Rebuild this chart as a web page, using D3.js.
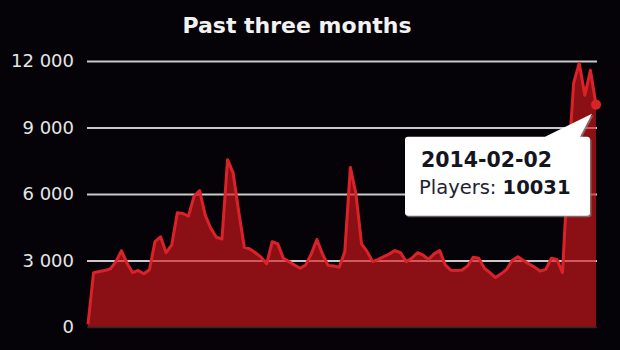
<!DOCTYPE html>
<html>
<head>
<meta charset="utf-8">
<script src="https://cdn.jsdelivr.net/npm/d3@7"></script>
<style>
  html, body { margin: 0; padding: 0; background: #050308; }
  text { font-family: "DejaVu Sans", Verdana, sans-serif; }
</style>
</head>
<body>
<div id="main"></div>
<script>
// daily player counts, 2013-11-03 .. 2014-02-02
var startDate = "2013-11-03";
var players = [
  120, 2450, 2500, 2550, 2620, 2950, 3440, 2870, 2450, 2550,
  2400, 2580, 3850, 4070, 3350, 3700, 5150, 5120, 5000, 5900,
  6150, 5050, 4450, 4050, 3970, 7550, 6950, 5200, 3600, 3520,
  3350, 3150, 2850, 3850, 3750, 3100, 2950, 2800, 2650, 2800,
  3300, 3950, 3300, 2780, 2750, 2700, 3400, 7200, 6000, 3750,
  3400, 2950, 3050, 3180, 3300, 3450, 3350, 2950, 3100, 3350,
  3250, 3050, 3300, 3450, 2800, 2560, 2550, 2570, 2750, 3150,
  3100, 2650, 2450, 2230, 2400, 2600, 3000, 3170, 3000, 2840,
  2700, 2520, 2600, 3100, 3050, 2450, 7200, 11000, 11900, 10450,
  11580, 10031
];
var yTicks = [0, 3000, 6000, 9000, 12000];
var title = "Past three months";
var seriesName = "Players";

var width = 620;
var height = 350;
var plotLeft = 88, plotRight = 596, plotTop = 61, plotBottom = 327;

var parseDate = d3.timeParse("%Y-%m-%d");
var fmtDate = d3.timeFormat("%Y-%m-%d");
var fmtTick = d3.formatLocale({decimal: ".", thousands: " ", grouping: [3], currency: ["", ""]}).format(",");

var data = players.map(function(v, i) {
  return { date: d3.timeDay.offset(parseDate(startDate), i), value: v };
});

var x = d3.scaleTime()
  .domain(d3.extent(data, function(d) { return d.date; }))
  .range([plotLeft, plotRight]);

var y = d3.scaleLinear()
  .domain([0, 12000])
  .range([plotBottom, plotTop]);

var svg = d3.select("#main").append("svg")
  .attr("width", width)
  .attr("height", height);

svg.append("rect")
  .attr("width", width)
  .attr("height", height)
  .attr("fill", "#050308");

svg.append("text")
  .attr("x", 297)
  .attr("y", 33)
  .attr("text-anchor", "middle")
  .attr("fill", "#f2f2f2")
  .style("font-size", "22px")
  .style("font-weight", "bold")
  .text(title);

// y axis with gridlines
var yAxis = svg.append("g")
  .attr("transform", "translate(" + (plotLeft - 1) + ",0)")
  .call(d3.axisLeft(y)
    .tickValues(yTicks)
    .tickSizeInner(-(plotRight - plotLeft + 2))
    .tickSizeOuter(0)
    .tickPadding(13)
    .tickFormat(fmtTick));

yAxis.select(".domain").remove();
yAxis.selectAll("line")
  .attr("stroke", "#c9c9c9")
  .attr("stroke-width", 2)
  .attr("opacity", function(d) { return d === 0 ? 0 : 1; });
yAxis.selectAll("text")
  .attr("fill", "#e6e6e6")
  .style("font-size", "18px")
  .style("font-family", "DejaVu Sans, Verdana, sans-serif");

var area = d3.area()
  .x(function(d) { return x(d.date); })
  .y0(y(0))
  .y1(function(d) { return y(d.value); });

var line = d3.line()
  .x(function(d) { return x(d.date); })
  .y(function(d) { return y(d.value); });

svg.append("path")
  .datum(data)
  .attr("d", area)
  .attr("fill", "#d8181f")
  .attr("fill-opacity", 0.64);

svg.append("line")
  .attr("x1", plotLeft - 1)
  .attr("x2", plotRight + 1)
  .attr("y1", plotBottom + 0.5)
  .attr("y2", plotBottom + 0.5)
  .attr("stroke", "#2a2a2a")
  .attr("stroke-width", 1.5);

svg.append("path")
  .datum(data)
  .attr("d", line)
  .attr("fill", "none")
  .attr("stroke", "#dc2229")
  .attr("stroke-width", 3)
  .attr("stroke-linejoin", "round");

// hovered point + tooltip
var hp = data[data.length - 1];
var px = x(hp.date), py = y(hp.value);

svg.append("circle")
  .attr("cx", px)
  .attr("cy", py)
  .attr("r", 5)
  .attr("fill", "#dc2229");

var bx0 = px - 191, bx1 = px - 6, by0 = py + 32, by1 = py + 111, r = 3;
var tipPath = "M" + (bx0 + r) + "," + by0 +
  " L" + (px - 51) + "," + by0 +
  " L" + (px - 4) + "," + (py + 9) +
  " L" + (px - 16) + "," + by0 +
  " L" + (bx1 - r) + "," + by0 +
  " Q" + bx1 + "," + by0 + " " + bx1 + "," + (by0 + r) +
  " L" + bx1 + "," + (by1 - r) +
  " Q" + bx1 + "," + by1 + " " + (bx1 - r) + "," + by1 +
  " L" + (bx0 + r) + "," + by1 +
  " Q" + bx0 + "," + by1 + " " + bx0 + "," + (by1 - r) +
  " L" + bx0 + "," + (by0 + r) +
  " Q" + bx0 + "," + by0 + " " + (bx0 + r) + "," + by0 + " Z";

var tip = svg.append("g");
tip.append("path")
  .attr("d", tipPath)
  .attr("transform", "translate(1.5,1.5)")
  .attr("fill", "#8a8a8a")
  .attr("opacity", 0.7);
tip.append("path")
  .attr("d", tipPath)
  .attr("fill", "#ffffff");

tip.append("text")
  .attr("x", bx0 + 16)
  .attr("y", by0 + 30)
  .attr("fill", "#15151f")
  .style("font-size", "20.5px")
  .style("font-weight", "bold")
  .text(fmtDate(hp.date));

var t2 = tip.append("text")
  .attr("x", bx0 + 14)
  .attr("y", by0 + 57)
  .attr("fill", "#222233")
  .style("font-size", "19.5px");
t2.append("tspan").text(seriesName + ": ");
t2.append("tspan").style("font-weight", "bold").attr("fill", "#15151f").text(hp.value);
</script>
</body>
</html>
